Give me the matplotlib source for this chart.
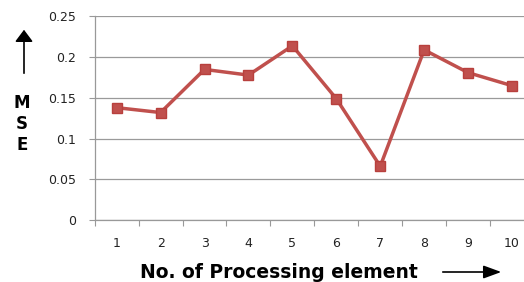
import matplotlib.pyplot as plt
from matplotlib.patches import FancyArrowPatch

plt.rcParams['font.family'] = ['DejaVu Sans']

elements = [1, 2, 3, 4, 5, 6, 7, 8, 9, 10]
mse = [0.138, 0.132, 0.185, 0.178, 0.214, 0.149, 0.066, 0.209, 0.181, 0.165]
yTicks = [0, 0.05, 0.1, 0.15, 0.2, 0.25]
yTickLabels = ['0', '0.05', '0.1', '0.15', '0.2', '0.25']


def addArrow(fig, start, end, style) -> None:
    # start/end in pixels from top-left of the 524x282 image
    fig.patches.append(FancyArrowPatch(
        (start[0] / 524, 1 - start[1] / 282), (end[0] / 524, 1 - end[1] / 282),
        transform=fig.transFigure, arrowstyle=style, mutation_scale=18,
        color='black', linewidth=1.2))


def main() -> None:
    fig = plt.figure(figsize=(5.24, 2.82), dpi=100)
    # axes runs a bit past the right edge, like the cropped original
    ax = fig.add_axes([0.1807, 0.2199, 0.8384, 0.7216])

    positions = [i - 0.5 for i in elements]
    ax.plot(positions, mse, color='#C0504D', linewidth=2.5, marker='s',
            markersize=7.5, markerfacecolor='#C0504D', markeredgecolor='#B8403D')

    ax.set_xlim(0, 10)
    ax.set_ylim(0, 0.25)
    ax.set_xticks(range(0, 11))
    ax.set_xticklabels([])
    ax.set_xticks(positions, minor=True)
    ax.set_xticklabels([str(e) for e in elements], minor=True)
    ax.tick_params(axis='x', which='minor', length=0, pad=12, labelsize=9, labelcolor='#222222')
    ax.tick_params(axis='x', which='major', length=4, color='#999999', direction='out')
    ax.set_yticks(yTicks)
    ax.set_yticklabels(yTickLabels)
    ax.tick_params(axis='y', length=4.5, color='#999999', direction='out', labelsize=9,
                   labelcolor='#222222', pad=9)

    ax.grid(True, axis='y', color='#9a9a9a', linewidth=0.9)
    ax.set_axisbelow(True)
    for side in ['top', 'right']:
        ax.spines[side].set_visible(False)
    for side in ['left', 'bottom']:
        ax.spines[side].set_color('#999999')
        ax.spines[side].set_linewidth(0.9)

    fig.text(140 / 524, 1 - 272 / 282, 'No. of Processing element', fontsize=13.5,
             fontweight='bold', ha='left', va='center')
    addArrow(fig, (440, 272), (504, 272), '-|>,head_length=0.6,head_width=0.22')

    for i, letter in enumerate('MSE'):
        fig.text(22 / 524, 1 - (103 + 21 * i) / 282, letter, fontsize=12,
                 fontweight='bold', ha='center', va='center')
    addArrow(fig, (24, 76), (24, 27), '-|>,head_length=0.4,head_width=0.3')

    fig.savefig('out.png', dpi=100)


if __name__ == '__main__':
    main()
